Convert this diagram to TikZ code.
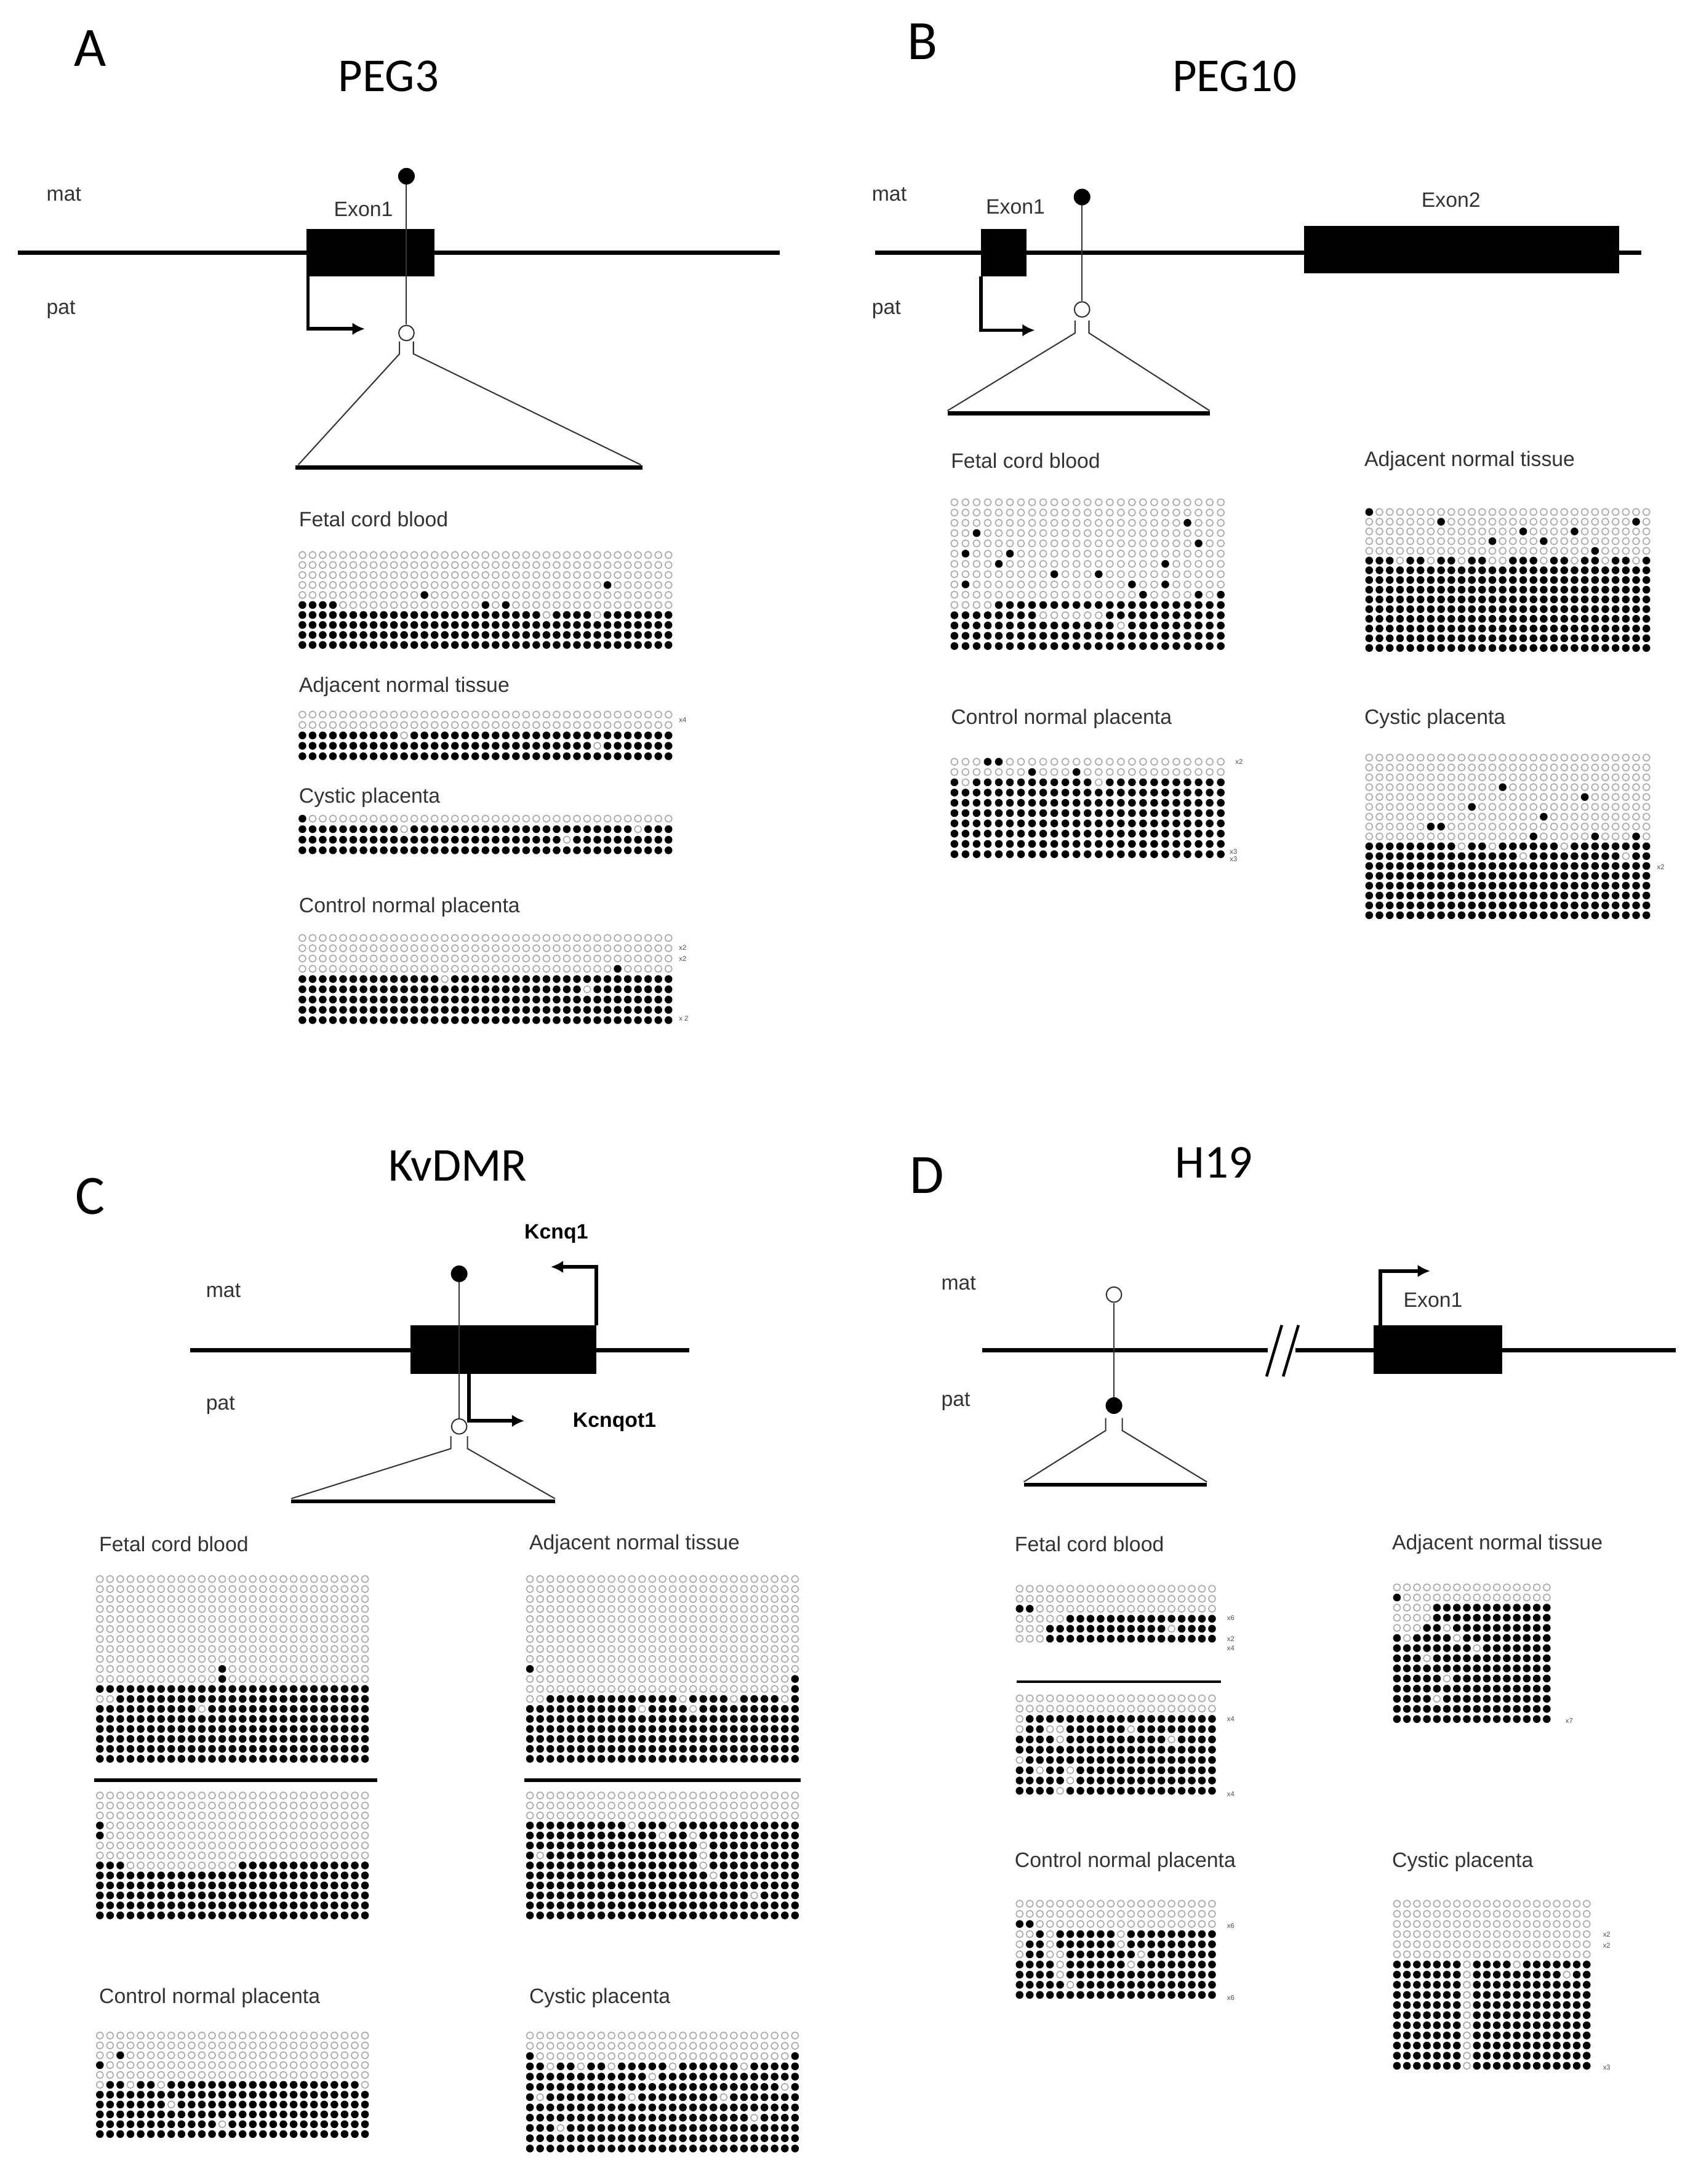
\documentclass[tikz,border=0pt]{standalone}
\usepackage{fontspec}
\setmainfont{Liberation Sans}
\newfontfamily\calfont{Carlito}
\usetikzlibrary{arrows.meta}
\begin{document}
\begin{tikzpicture}[x=1pt,y=-1pt,
  od/.style={draw=gray!70,line width=0.7pt},
  lbl/.style={text=black!80,font=\fontsize{15}{15}\selectfont,anchor=west},
  sm/.style={text=black!70,font=\fontsize{5}{5}\selectfont,anchor=west},
  ttl/.style={font=\calfont\fontsize{34}{34}\selectfont},
  big/.style={font=\calfont\fontsize{40}{40}\selectfont},
  gl/.style={line width=3pt},
  thin/.style={line width=0.9pt,draw=black!80}]
\useasboundingbox[fill=white] (0,0) rectangle (1220,1574);
\newcommand\dotgrid[7]{%
 \pgfmathtruncatemacro\nc{#5-1}\pgfmathtruncatemacro\no{#7-1}\pgfmathtruncatemacro\nr{#6-1}%
 \foreach \i in {0,...,\nc}{\foreach \j in {0,...,\no}{\draw[od] ({#1+\i*#3},{#2+\j*#4}) circle (2.5pt);}%
 \foreach \j in {#7,...,\nr}{\fill ({#1+\i*#3},{#2+\j*#4}) circle (2.8pt);}}}
\newcommand\xd[5]{\foreach \i/\j in {#5}{\fill[white] ({#1+\i*#3},{#2+\j*#4}) circle (3.3pt);\fill ({#1+\i*#3},{#2+\j*#4}) circle (2.8pt);}}
\newcommand\xo[5]{\foreach \i/\j in {#5}{\fill[white] ({#1+\i*#3},{#2+\j*#4}) circle (3.3pt);\draw[od] ({#1+\i*#3},{#2+\j*#4}) circle (2.5pt);}}
% ================= A
\node[big] (LA) at (65,35) {A};
\node[ttl] (TA) at (280,55) {PEG3};
\node[lbl] (matA) at (30,140) {mat};
\node[lbl] (patA) at (30,223) {pat};
\draw[gl] (13,182) -- (562,182);
\fill (221,165) rectangle (313,199);
\node[lbl,anchor=center] (exA) at (262,151) {Exon1};
\draw[thin] (293,127) -- (293,234);
\fill (293,127) circle (6pt);
\draw[thin,fill=white] (293,240) circle (5.5pt);
\draw[line width=2.5pt,-{Latex[length=9pt,width=9pt]}] (222,199) -- (222,237) -- (263,237);
\draw[thin] (288,246) -- (288,255) -- (215,335);
\draw[thin] (298,246) -- (298,255) -- (462,335);
\draw[gl] (213,337) -- (463,337);
\node[lbl] (a1) at (212,374) {Fetal cord blood};
\dotgrid{218}{400}{7.33}{7.2}{37}{10}{5}
\xd{218}{400}{7.33}{7.2}{0/5,1/5,2/5,3/5,12/4,18/5,20/5,30/3}
\xo{218}{400}{7.33}{7.2}{4/5,5/5,6/5,7/5,8/5,9/5,10/5,11/5,12/5,13/5,14/5,15/5,16/5,17/5,19/5,21/5,22/5,23/5,24/5,25/5,26/5,27/5,28/5,29/5,30/5,31/5,32/5,33/5,34/5,35/5,36/5,24/6,29/6}
\node[lbl] (a2) at (212,495) {Adjacent normal tissue};
\dotgrid{218}{515}{7.33}{7.5}{37}{5}{2}
\xo{218}{515}{7.33}{7.5}{10/2,29/3}
\node[sm] at (486,519) {x4};
\node[lbl] (a3) at (212,575) {Cystic placenta};
\dotgrid{218}{590}{7.33}{7.6}{37}{4}{1}
\xd{218}{590}{7.33}{7.6}{0/0}
\xo{218}{590}{7.33}{7.6}{10/1,26/2,33/1}
\node[lbl] (a4) at (212,654) {Control normal placenta};
\dotgrid{218}{676}{7.33}{7.4}{37}{9}{4}
\xd{218}{676}{7.33}{7.4}{31/3}
\xo{218}{676}{7.33}{7.4}{14/4,28/5}
\node[sm] at (486,683) {x2};
\node[sm] at (486,691) {x2};
\node[sm] at (486,734) {x 2};
% ================= B
\node[big] (LB) at (665,30) {B};
\node[ttl] (TB) at (890,55) {PEG10};
\node[lbl] (matB) at (625,140) {mat};
\node[lbl] (patB) at (625,223) {pat};
\draw[gl] (631,182) -- (1183,182);
\fill (707,165) rectangle (740,199);
\fill (940,163) rectangle (1167,197);
\node[lbl,anchor=center] (exB1) at (732,149) {Exon1};
\node[lbl,anchor=center] (exB2) at (1046,144) {Exon2};
\draw[thin] (780,142) -- (780,217);
\fill (780,142) circle (6pt);
\draw[thin,fill=white] (780,223) circle (5.5pt);
\draw[line width=2.5pt,-{Latex[length=9pt,width=9pt]}] (707,199) -- (707,238) -- (746,238);
\draw[thin] (775,231) -- (775,240) -- (683,296);
\draw[thin] (785,231) -- (785,240) -- (872,296);
\draw[gl] (683,298) -- (872,298);
\node[lbl] (b1) at (682,332) {Fetal cord blood};
\dotgrid{688}{362}{8.0}{7.4}{25}{15}{11}
\xd{688}{362}{8.0}{7.4}{2/3,1/5,5/5,4/6,9/7,13/7,19/6,21/2,22/4,1/8,16/8,19/8,17/9,22/9,24/9}
\xd{688}{362}{8.0}{7.4}{4/10,5/10,6/10,7/10,8/10,9/10,10/10,11/10,12/10,13/10,14/10,15/10,16/10,17/10,18/10,19/10,20/10,21/10,22/10,23/10,24/10}
\xo{688}{362}{8.0}{7.4}{8/11,9/11,10/11,11/11,12/11,13/11,15/12}
\node[lbl] (b2) at (980,332) {Adjacent normal tissue};
\dotgrid{987}{369}{7.4}{7.0}{28}{15}{5}
\xd{987}{369}{7.4}{7.0}{0/0,7/1,12/3,15/2,17/3,20/2,26/1,22/4,24/5}
\xo{987}{369}{7.4}{7.0}{3/5,6/5,9/5,12/5,13/5,17/5,20/5,23/5,26/5}
\node[lbl] (b3) at (682,518) {Control normal placenta};
\dotgrid{688}{549}{8.0}{7.4}{25}{10}{2}
\xd{688}{549}{8.0}{7.4}{3/0,4/0,7/1,11/1}
\xo{688}{549}{8.0}{7.4}{1/2,13/2}
\node[sm] at (887,549) {x2};
\node[sm] at (883,614) {x3};
\node[sm] at (883,619) {x3};
\node[lbl] (b4) at (980,518) {Cystic placenta};
\dotgrid{987}{546}{7.4}{7.1}{28}{17}{9}
\xd{987}{546}{7.4}{7.1}{13/3,17/6,10/5,21/4,6/7,7/7,16/8,22/8,26/8}
\xo{987}{546}{7.4}{7.1}{9/9,12/9,15/10,19/9,25/10}
\node[sm] at (1191,625) {x2};
% ================= C
\node[big] (LC) at (65,862) {C};
\node[ttl] (TC) at (330,840) {KvDMR};
\node[lbl] (matC) at (145,930) {mat};
\node[lbl] (patC) at (145,1013) {pat};
\draw[gl] (137,973) -- (497,973);
\fill (296,955) rectangle (430,990);
\draw[line width=2.5pt,-{Latex[length=9pt,width=9pt]}] (430,955) -- (430,913) -- (397,913);
\node[font=\bfseries\fontsize{15}{15}\selectfont] at (401,889) {Kcnq1};
\draw[thin] (331,918) -- (331,1022);
\fill (331,918) circle (6pt);
\draw[thin,fill=white] (331,1028) circle (5.5pt);
\draw[line width=2.5pt,-{Latex[length=9pt,width=9pt]}] (338,990) -- (338,1024) -- (378,1024);
\node[font=\bfseries\fontsize{15}{15}\selectfont] at (443,1025) {Kcnqot1};
\draw[thin] (325,1035) -- (325,1044) -- (210,1080);
\draw[thin] (337,1035) -- (337,1044) -- (400,1080);
\draw[gl] (210,1082) -- (400,1082);
\node[lbl] (c1) at (68,1113) {Fetal cord blood};
\dotgrid{72}{1138}{7.35}{7.2}{27}{19}{11}
\xd{72}{1138}{7.35}{7.2}{0/11,2/11,3/11,4/11,5/11,6/11,7/11,8/11,9/11,10/11,11/11,12/11,13/11,14/11,15/11,16/11,17/11,18/11,19/11,20/11,21/11,22/11,23/11,24/11,25/11,26/11,12/9,12/10}
\xo{72}{1138}{7.35}{7.2}{0/12,1/12,10/13}
\draw[gl] (68,1283) -- (272,1283);
\dotgrid{72}{1294}{7.35}{7.2}{27}{13}{7}
\xd{72}{1294}{7.35}{7.2}{0/3,0/4,2/7,1/7}
\xo{72}{1294}{7.35}{7.2}{3/7,4/7,5/7,6/7,7/7,8/7,9/7,10/7,11/7,12/7,13/7}
\node[lbl] (c2) at (378,1113) {Adjacent normal tissue};
\dotgrid{382}{1138}{7.35}{7.2}{27}{19}{12}
\xd{382}{1138}{7.35}{7.2}{0/9,26/10,26/11}
\xo{382}{1138}{7.35}{7.2}{0/12,1/12,11/13,15/12,16/13,20/12,25/12}
\draw[gl] (378,1283) -- (577,1283);
\dotgrid{382}{1294}{7.35}{7.2}{27}{13}{3}
\xo{382}{1294}{7.35}{7.2}{10/3,14/3,13/4,16/4,17/5,17/6,17/7,18/8,1/6,22/10}
\node[lbl] (c3) at (68,1440) {Control normal placenta};
\dotgrid{72}{1467}{7.35}{7.1}{27}{11}{5}
\xd{72}{1467}{7.35}{7.1}{0/3,2/2}
\xo{72}{1467}{7.35}{7.1}{0/5,3/5,6/5,26/5,7/7,12/9}
\node[lbl] (c4) at (378,1440) {Cystic placenta};
\dotgrid{382}{1467}{7.35}{7.4}{27}{12}{3}
\xd{382}{1467}{7.35}{7.4}{0/2,18/3,26/2}
\xo{382}{1467}{7.35}{7.4}{2/3,5/3,8/3,12/4,14/3,21/3,1/6,10/6,19/6,25/5,3/9,22/8}
% ================= D
\node[big] (LD) at (668,847) {D};
\node[ttl] (TD) at (875,838) {H19};
\node[lbl] (matD) at (675,925) {mat};
\node[lbl] (patD) at (675,1010) {pat};
\draw[gl] (708,973) -- (1208,973);
\fill[white] (914,960) rectangle (934,986);
\draw[line width=2pt] (913,992) -- (924,955);
\draw[line width=2pt] (925,992) -- (936,955);
\fill (990,955) rectangle (1083,990);
\draw[line width=2.5pt,-{Latex[length=9pt,width=9pt]}] (995,955) -- (995,916) -- (1031,916);
\node[lbl,anchor=center] (exD) at (1033,937) {Exon1};
\draw[thin] (803,939) -- (803,1013);
\draw[thin,fill=white] (803,933) circle (5.5pt);
\fill (803,1013) circle (6pt);
\draw[thin] (797,1022) -- (797,1031) -- (738,1068);
\draw[thin] (809,1022) -- (809,1031) -- (870,1068);
\draw[gl] (738,1070) -- (870,1070);
\node[lbl] (d1) at (728,1113) {Fetal cord blood};
\dotgrid{735}{1145}{7.3}{7.2}{20}{6}{3}
\xd{735}{1145}{7.3}{7.2}{0/2,1/2}
\xo{735}{1145}{7.3}{7.2}{0/3,1/3,2/3,3/3,4/3,0/4,1/4,2/4,0/5,1/5,2/5,15/4}
\node[sm] at (881,1166) {x6};
\node[sm] at (881,1181) {x2};
\node[sm] at (881,1188) {x4};
\draw[line width=1.5pt] (733,1212) -- (880,1212);
\dotgrid{735}{1224}{7.3}{7.4}{20}{10}{2}
\xo{735}{1224}{7.3}{7.4}{0/2,0/3,3/3,4/3,4/4,11/3,15/4,0/6,2/7,5/7,5/8,4/9}
\node[sm] at (881,1239) {x4};
\node[sm] at (881,1293) {x4};
\node[lbl] (d2) at (1000,1113) {Adjacent normal tissue};
\dotgrid{1007}{1144}{7.2}{7.3}{16}{14}{2}
\xd{1007}{1144}{7.2}{7.3}{0/1}
\xo{1007}{1144}{7.2}{7.3}{0/2,1/2,2/2,3/2,0/3,1/3,2/3,3/3,0/4,1/4,2/4,1/5,5/4,6/5,8/6,3/7,5/9,4/11}
\node[sm] at (1125,1240) {x7};
\node[lbl] (d3) at (728,1342) {Control normal placenta};
\dotgrid{735}{1372}{7.3}{7.3}{20}{10}{3}
\xd{735}{1372}{7.3}{7.3}{0/2,1/2}
\xo{735}{1372}{7.3}{7.3}{0/3,1/3,0/4,0/5,3/3,3/4,3/5,4/5,4/6,10/3,10/4,12/5,11/6,4/7,5/8}
\node[sm] at (881,1388) {x6};
\node[sm] at (881,1440) {x6};
\node[lbl] (d4) at (1000,1342) {Cystic placenta};
\dotgrid{1007}{1372}{7.2}{7.3}{20}{17}{6}
\xo{1007}{1372}{7.2}{7.3}{7/6,7/7,7/8,7/9,7/10,7/11,7/12,7/13,7/14,7/15,7/16,12/6,17/7}
\node[sm] at (1152,1394) {x2};
\node[sm] at (1152,1402) {x2};
\node[sm] at (1152,1490) {x3};
\end{tikzpicture}
\end{document}
